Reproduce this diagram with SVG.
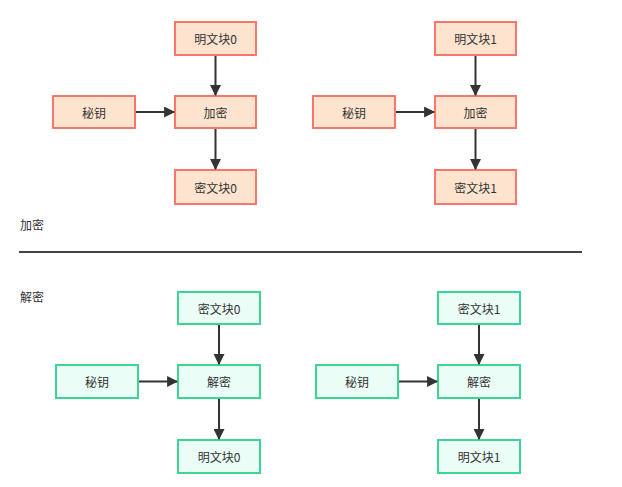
<svg xmlns="http://www.w3.org/2000/svg" width="622" height="487" viewBox="0 0 622 487">
<defs>
<style>
.enc rect{fill:#fee4cf;stroke:#f8766b;stroke-width:2}
.dec rect{fill:#ebfdf7;stroke:#3bd694;stroke-width:2}
text{font-family:"Noto Sans CJK SC","Noto Sans",sans-serif;font-size:12px;fill:#333;text-anchor:middle;dominant-baseline:central}
.lbl{text-anchor:start}
.c line{stroke:#333;stroke-width:2;marker-end:url(#ah)}
</style>
<marker id="ah" viewBox="0 0 10 10" refX="9" refY="5" markerWidth="5.5" markerHeight="5.5" orient="auto" markerUnits="strokeWidth">
<path d="M0,0 L10,5 L0,10 z" fill="#333"/>
</marker>
</defs>
<rect width="622" height="487" fill="#fff"/>
<g id="enc0-plain" class="enc"><rect x="175" y="22" width="81" height="33"/><text x="215.5" y="38.5">明文块0</text></g>
<g id="enc0-op" class="enc"><rect x="175" y="96" width="81" height="32"/><text x="215.5" y="112">加密</text></g>
<g id="enc0-key" class="enc"><rect x="53" y="96" width="82" height="32"/><text x="94" y="112">秘钥</text></g>
<g id="enc0-cipher" class="enc"><rect x="175" y="170" width="81" height="34"/><text x="215.5" y="187">密文块0</text></g>
<g id="enc1-plain" class="enc"><rect x="435" y="22" width="81" height="33"/><text x="475.5" y="38.5">明文块1</text></g>
<g id="enc1-op" class="enc"><rect x="435" y="96" width="81" height="32"/><text x="475.5" y="112">加密</text></g>
<g id="enc1-key" class="enc"><rect x="313" y="96" width="82" height="32"/><text x="354" y="112">秘钥</text></g>
<g id="enc1-cipher" class="enc"><rect x="435" y="170" width="81" height="34"/><text x="475.5" y="187">密文块1</text></g>
<g id="dec0-cipher" class="dec"><rect x="178" y="292" width="82" height="32"/><text x="219" y="308">密文块0</text></g>
<g id="dec0-op" class="dec"><rect x="178" y="365" width="82" height="33"/><text x="219" y="381.5">解密</text></g>
<g id="dec0-key" class="dec"><rect x="56" y="365" width="82" height="33"/><text x="97" y="381.5">秘钥</text></g>
<g id="dec0-plain" class="dec"><rect x="178" y="440" width="82" height="33"/><text x="219" y="456.5">明文块0</text></g>
<g id="dec1-cipher" class="dec"><rect x="438" y="292" width="82" height="32"/><text x="479" y="308">密文块1</text></g>
<g id="dec1-op" class="dec"><rect x="438" y="365" width="82" height="33"/><text x="479" y="381.5">解密</text></g>
<g id="dec1-key" class="dec"><rect x="316" y="365" width="82" height="33"/><text x="357" y="381.5">秘钥</text></g>
<g id="dec1-plain" class="dec"><rect x="438" y="440" width="82" height="33"/><text x="479" y="456.5">明文块1</text></g>
<g id="labels">
<text class="lbl" x="20" y="224">加密</text>
<text class="lbl" x="20" y="296">解密</text>
<line x1="19" y1="252" x2="582" y2="252" stroke="#444" stroke-width="2"/>
</g>
<g id="connectors" class="c">
<line x1="215.5" y1="56" x2="215.5" y2="95"/>
<line x1="136" y1="112" x2="174" y2="112"/>
<line x1="215.5" y1="129" x2="215.5" y2="169"/>
<line x1="475.5" y1="56" x2="475.5" y2="95"/>
<line x1="396" y1="112" x2="434" y2="112"/>
<line x1="475.5" y1="129" x2="475.5" y2="169"/>
<line x1="219" y1="325" x2="219" y2="364"/>
<line x1="139" y1="381.5" x2="177" y2="381.5"/>
<line x1="219" y1="399" x2="219" y2="439"/>
<line x1="479" y1="325" x2="479" y2="364"/>
<line x1="399" y1="381.5" x2="437" y2="381.5"/>
<line x1="479" y1="399" x2="479" y2="439"/>
</g>
</svg>
